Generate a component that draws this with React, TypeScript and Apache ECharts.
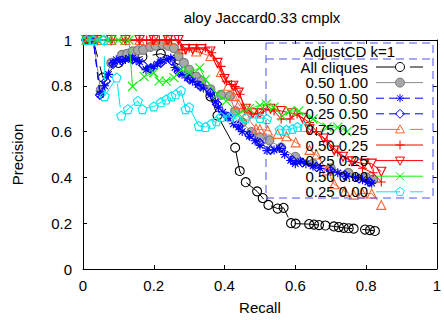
import React, { useEffect, useRef } from 'react';
import * as echarts from 'echarts';

const FONT = '"Liberation Sans", Arial, Helvetica, sans-serif';

// ---- data (recall, precision) ----
const allCliques = [
  [0.01, 1], [0.029, 1], [0.056, 0.836], [0.1, 0.9], [0.168, 0.927], [0.22, 0.94], [0.27, 0.914],
  [0.31, 0.84], [0.36, 0.754], [0.38, 0.67], [0.43, 0.53], [0.443, 0.428], [0.46, 0.379],
  [0.492, 0.339], [0.508, 0.31], [0.524, 0.28], [0.55, 0.264], [0.567, 0.267], [0.588, 0.2],
  [0.601, 0.198], [0.639, 0.196], [0.653, 0.194], [0.667, 0.192], [0.685, 0.19], [0.709, 0.186],
  [0.723, 0.183], [0.737, 0.18], [0.751, 0.178], [0.765, 0.176], [0.797, 0.172], [0.811, 0.17],
  [0.825, 0.166],
];
const p050_100 = [
  [0.01, 1], [0.029, 1], [0.05, 0.78], [0.08, 0.9], [0.11, 0.935], [0.125, 0.94], [0.14, 0.95],
  [0.155, 0.955], [0.17, 0.957], [0.19, 0.97], [0.205, 0.975], [0.225, 0.98], [0.24, 0.975],
  [0.257, 0.965], [0.27, 0.93], [0.285, 0.9], [0.3, 0.87], [0.32, 0.84], [0.335, 0.82],
  [0.36, 0.785], [0.39, 0.76], [0.415, 0.756], [0.43, 0.69], [0.45, 0.64], [0.476, 0.598],
  [0.5, 0.575], [0.527, 0.562], [0.56, 0.53], [0.6, 0.49], [0.65, 0.46], [0.7, 0.44],
  [0.75, 0.42], [0.8, 0.4], [0.82, 0.39],
];
const p050_050 = [
  [0.01, 1], [0.029, 1], [0.049, 0.763], [0.061, 0.8], [0.072, 0.85], [0.085, 0.9], [0.094, 0.914],
  [0.105, 0.91], [0.12, 0.915], [0.13, 0.92], [0.14, 0.92], [0.15, 0.912], [0.16, 0.905],
  [0.178, 0.87], [0.19, 0.875], [0.2, 0.885], [0.21, 0.895], [0.22, 0.905], [0.235, 0.915],
  [0.248, 0.921], [0.26, 0.88], [0.27, 0.865], [0.28, 0.85], [0.295, 0.835], [0.31, 0.82],
  [0.325, 0.805], [0.34, 0.79], [0.36, 0.76], [0.374, 0.73], [0.383, 0.707], [0.395, 0.685],
  [0.41, 0.66], [0.425, 0.634], [0.44, 0.62], [0.45, 0.6], [0.47, 0.58], [0.486, 0.56],
  [0.5, 0.54], [0.52, 0.517], [0.54, 0.52], [0.555, 0.526], [0.57, 0.5], [0.587, 0.474],
  [0.6, 0.46], [0.615, 0.47], [0.63, 0.46], [0.65, 0.45], [0.67, 0.44], [0.7, 0.427],
  [0.72, 0.42], [0.745, 0.405], [0.77, 0.4], [0.79, 0.39], [0.805, 0.38], [0.816, 0.375],
];
const p025_050 = [
  [0.01, 1], [0.029, 1], [0.048, 0.76], [0.065, 0.82], [0.085, 0.895], [0.11, 0.91], [0.14, 0.915],
  [0.17, 0.89], [0.19, 0.875], [0.22, 0.9], [0.25, 0.91], [0.27, 0.86], [0.3, 0.83], [0.33, 0.8],
  [0.36, 0.77], [0.38, 0.72], [0.41, 0.665], [0.44, 0.625], [0.47, 0.585], [0.5, 0.55],
  [0.53, 0.52], [0.56, 0.53], [0.592, 0.475], [0.62, 0.465], [0.66, 0.445], [0.7, 0.43],
  [0.74, 0.41], [0.78, 0.395], [0.81, 0.38],
];
const p075_025 = [
  [0.01, 1], [0.04, 1], [0.08, 1], [0.12, 1], [0.16, 1], [0.2, 1], [0.24, 1], [0.28, 0.96],
  [0.32, 0.95], [0.36, 0.93], [0.39, 0.86], [0.41, 0.8], [0.425, 0.755], [0.44, 0.72],
  [0.46, 0.67], [0.489, 0.612], [0.5, 0.61], [0.522, 0.605], [0.55, 0.59], [0.575, 0.58],
  [0.601, 0.553], [0.64, 0.52], [0.66, 0.5], [0.69, 0.43], [0.71, 0.37], [0.74, 0.34],
  [0.765, 0.325], [0.79, 0.33], [0.816, 0.33], [0.843, 0.28],
];
const p050_025 = [
  [0.01, 1], [0.04, 1], [0.08, 1], [0.12, 1], [0.16, 1], [0.18, 1], [0.196, 1], [0.216, 1],
  [0.235, 1], [0.25, 1], [0.27, 1], [0.28, 0.957], [0.3, 0.965], [0.32, 0.965], [0.346, 0.965],
  [0.364, 0.944], [0.39, 0.885], [0.405, 0.82], [0.42, 0.806], [0.43, 0.797], [0.444, 0.763],
  [0.458, 0.69], [0.475, 0.677], [0.494, 0.677], [0.51, 0.698], [0.54, 0.69], [0.56, 0.655],
  [0.585, 0.655], [0.605, 0.677], [0.64, 0.64], [0.66, 0.6], [0.69, 0.56], [0.72, 0.51],
  [0.76, 0.47], [0.79, 0.44], [0.82, 0.42], [0.843, 0.38],
];
const p025_025 = [
  [0.01, 1], [0.04, 1], [0.08, 1], [0.12, 1], [0.16, 1], [0.2, 1], [0.24, 1], [0.27, 1],
  [0.29, 0.96], [0.31, 0.96], [0.335, 0.96], [0.36, 0.95], [0.38, 0.9], [0.4, 0.83],
  [0.425, 0.8], [0.44, 0.77], [0.46, 0.7], [0.48, 0.68], [0.5, 0.68], [0.53, 0.7], [0.56, 0.69],
  [0.59, 0.68], [0.62, 0.66], [0.64, 0.61], [0.68, 0.57], [0.71, 0.517], [0.735, 0.49],
  [0.76, 0.47], [0.795, 0.46], [0.816, 0.46], [0.843, 0.425],
];
const p050_000 = [
  [0.01, 1], [0.04, 1], [0.07, 1], [0.1, 1], [0.13, 1], [0.14, 0.797], [0.173, 0.84],
  [0.2, 0.857], [0.215, 0.82], [0.235, 0.82], [0.257, 0.836], [0.277, 0.87], [0.3, 0.857],
  [0.33, 0.878], [0.346, 0.827], [0.38, 0.763], [0.405, 0.733], [0.44, 0.677], [0.47, 0.7],
  [0.5, 0.715], [0.518, 0.72], [0.54, 0.707], [0.564, 0.668], [0.585, 0.69], [0.61, 0.69],
  [0.65, 0.655], [0.69, 0.62], [0.72, 0.62], [0.746, 0.6],
];
const p025_000 = [
  [0.01, 1], [0.03, 1], [0.06, 1], [0.061, 0.755], [0.095, 0.836], [0.108, 0.67], [0.127, 0.698],
  [0.155, 0.734], [0.168, 0.698], [0.2, 0.71], [0.22, 0.728], [0.235, 0.74], [0.25, 0.754],
  [0.262, 0.763], [0.277, 0.78], [0.29, 0.698], [0.3, 0.707], [0.327, 0.625], [0.346, 0.62],
  [0.363, 0.634], [0.377, 0.645], [0.39, 0.664], [0.416, 0.664], [0.433, 0.655], [0.46, 0.66],
  [0.5, 0.66], [0.52, 0.655], [0.556, 0.608], [0.575, 0.608], [0.592, 0.612], [0.606, 0.62],
  [0.626, 0.62],
];

const seriesNames = [
  'All cliques', '0.50 1.00', '0.50 0.50', '0.25 0.50', '0.75 0.25',
  '0.50 0.25', '0.25 0.25', '0.50 0.00', '0.25 0.00',
];
const seriesData = [
  allCliques, p050_100, p050_050, p025_050, p075_025, p050_025, p025_025, p050_000, p025_000,
];
const titleText = 'aloy Jaccard0.33 cmplx';
const legendTitle = 'AdjustCD k=1';

// ---- marker shapes ----
const P_AST = 'M-4,0L4,0M0,-4L0,4M-2.9,-2.9L2.9,2.9M-2.9,2.9L2.9,-2.9';
const P_DIA = 'M0,-4.5L4.5,0L0,4.5L-4.5,0Z';
const P_TRI = 'M0,-4.5L4.5,3.5L-4.5,3.5Z';
const P_TRID = 'M0,4.5L4.5,-3.5L-4.5,-3.5Z';
const P_PLUS = 'M-4.5,0L4.5,0M0,-4.5L0,4.5';
const P_X = 'M-4,-4L4,4M-4,4L4,-4';
const P_PENT = 'M0,-4.5L4.28,-1.39L2.65,3.64L-2.65,3.64L-4.28,-1.39Z';

let registered = false;
function registerShapes() {
  if (registered) return;
  registered = true;
  const g: any = (echarts as any).graphic;
  g.registerShape('mkAst', g.extendPath(P_AST, {}));
  g.registerShape('mkDia', g.extendPath(P_DIA, {}));
  g.registerShape('mkTri', g.extendPath(P_TRI, {}));
  g.registerShape('mkTriD', g.extendPath(P_TRID, {}));
  g.registerShape('mkPlus', g.extendPath(P_PLUS, {}));
  g.registerShape('mkX', g.extendPath(P_X, {}));
  g.registerShape('mkPent', g.extendPath(P_PENT, {}));
}

type Sty = {
  color: string; fill: string; stroke: string; dash: any; symbol: string; shape: string; size: number;
};
const LONG = [24, 10];
const SHORT = [8, 5];
const styles: Sty[] = [
  { color: '#000000', fill: 'transparent', stroke: '#000000', dash: LONG, symbol: 'circle', shape: 'circle', size: 9 },
  { color: '#8a8a8a', fill: '#a8a8a8', stroke: '#7a7a7a', dash: 'solid', symbol: 'circle', shape: 'circle', size: 9 },
  { color: '#0000ff', fill: 'transparent', stroke: '#0000ff', dash: SHORT, symbol: 'path://' + P_AST, shape: 'mkAst', size: 9 },
  { color: '#0000ff', fill: 'transparent', stroke: '#0000ff', dash: SHORT, symbol: 'path://' + P_DIA, shape: 'mkDia', size: 9 },
  { color: '#ff6633', fill: 'transparent', stroke: '#ff6633', dash: LONG, symbol: 'path://' + P_TRI, shape: 'mkTri', size: 9 },
  { color: '#ff0000', fill: 'transparent', stroke: '#ff0000', dash: 'solid', symbol: 'path://' + P_PLUS, shape: 'mkPlus', size: 9 },
  { color: '#ff0000', fill: 'transparent', stroke: '#ff0000', dash: 'solid', symbol: 'path://' + P_TRID, shape: 'mkTriD', size: 9 },
  { color: '#11ee11', fill: 'transparent', stroke: '#11ee11', dash: 'solid', symbol: 'path://' + P_X, shape: 'mkX', size: 9 },
  { color: '#00e6f2', fill: 'transparent', stroke: '#00e6f2', dash: LONG, symbol: 'path://' + P_PENT, shape: 'mkPent', size: 9 },
];

function buildOption() {
  const series = seriesData.map((d, i) => {
    const s = styles[i];
    return {
      type: 'line',
      name: seriesNames[i],
      data: d,
      symbol: s.symbol,
      symbolSize: s.size,
      showSymbol: true,
      clip: false,
      lineStyle: { color: s.color, width: 1, type: s.dash },
      itemStyle: { color: s.fill, borderColor: s.stroke, borderWidth: 1.1 },
      emphasis: { disabled: true },
      silent: true,
      z: 2 + i,
    };
  });

  const graphic: any[] = [];
  graphic.push({
    type: 'text', x: 262, y: 17, z: 100,
    style: { text: titleText, fill: '#000', fontSize: 15, fontFamily: FONT, align: 'center', verticalAlign: 'middle' },
  });
  const boxColor = '#5050f2';
  graphic.push({
    type: 'rect', z: 100,
    shape: { x: 266, y: 43, width: 167, height: 155 },
    style: { fill: 'none', stroke: boxColor, lineWidth: 1, lineDash: [8, 5] },
  });
  graphic.push({
    type: 'line', z: 100,
    shape: { x1: 266, y1: 59, x2: 433, y2: 59 },
    style: { stroke: boxColor, lineWidth: 1, lineDash: [8, 5] },
  });
  graphic.push({
    type: 'text', x: 349, y: 51, z: 101,
    style: { text: legendTitle, fill: '#000', fontSize: 15, fontFamily: FONT, align: 'center', verticalAlign: 'middle' },
  });
  seriesNames.forEach((nm, i) => {
    const s = styles[i];
    const y = 67 + i * 15.6;
    graphic.push({
      type: 'text', x: 368, y, z: 101,
      style: { text: nm, fill: '#000', fontSize: 15, fontFamily: FONT, align: 'right', verticalAlign: 'middle' },
    });
    graphic.push({
      type: 'line', z: 101,
      shape: { x1: 376, y1: y, x2: 423, y2: y },
      style: { stroke: s.color, lineWidth: 1, lineDash: Array.isArray(s.dash) ? s.dash : null },
    });
    if (s.shape === 'circle') {
      graphic.push({
        type: 'circle', z: 102,
        shape: { cx: 400, cy: y, r: 4.5 },
        style: { fill: s.fill === 'transparent' ? '#fff' : s.fill, stroke: s.stroke, lineWidth: 1 },
      });
    } else {
      graphic.push({
        type: s.shape, x: 400, y, z: 102,
        style: { fill: 'none', stroke: s.stroke, lineWidth: 1 },
      });
    }
  });

  const axisCommon = {
    type: 'value', min: 0, max: 1, interval: 0.2,
    splitLine: { show: false },
    axisLine: { show: true, onZero: false, lineStyle: { color: '#000', width: 1 } },
    axisTick: { show: true, inside: true, length: 4, lineStyle: { color: '#000' } },
  };

  return {
    animation: false,
    grid: { left: 83, right: 3, top: 40, bottom: 47, containLabel: false },
    graphic,
    xAxis: [
      {
        ...axisCommon,
        position: 'bottom',
        name: 'Recall', nameLocation: 'middle', nameGap: 31,
        nameTextStyle: { color: '#000', fontSize: 15, fontFamily: FONT },
        axisLabel: { color: '#000', fontSize: 15, fontFamily: FONT, margin: 9 },
      },
      { ...axisCommon, position: 'top', axisLabel: { show: false } },
    ],
    yAxis: [
      {
        ...axisCommon,
        position: 'left',
        name: 'Precision', nameLocation: 'middle', nameGap: 58,
        nameTextStyle: { color: '#000', fontSize: 15, fontFamily: FONT },
        axisLabel: { color: '#000', fontSize: 15, fontFamily: FONT, margin: 11 },
      },
      { ...axisCommon, position: 'right', axisLabel: { show: false } },
    ],
    series,
  };
}

export default function App() {
  const ref = useRef<HTMLDivElement>(null);
  useEffect(() => {
    if (!ref.current) return;
    registerShapes();
    const chart = echarts.init(ref.current, undefined, { renderer: 'svg' });
    chart.setOption(buildOption() as any);
    return () => chart.dispose();
  }, []);
  return (
    <div
      ref={ref}
      style={{ width: 444, height: 320, position: 'absolute', left: 0, top: 0, background: '#fff' }}
    />
  );
}
